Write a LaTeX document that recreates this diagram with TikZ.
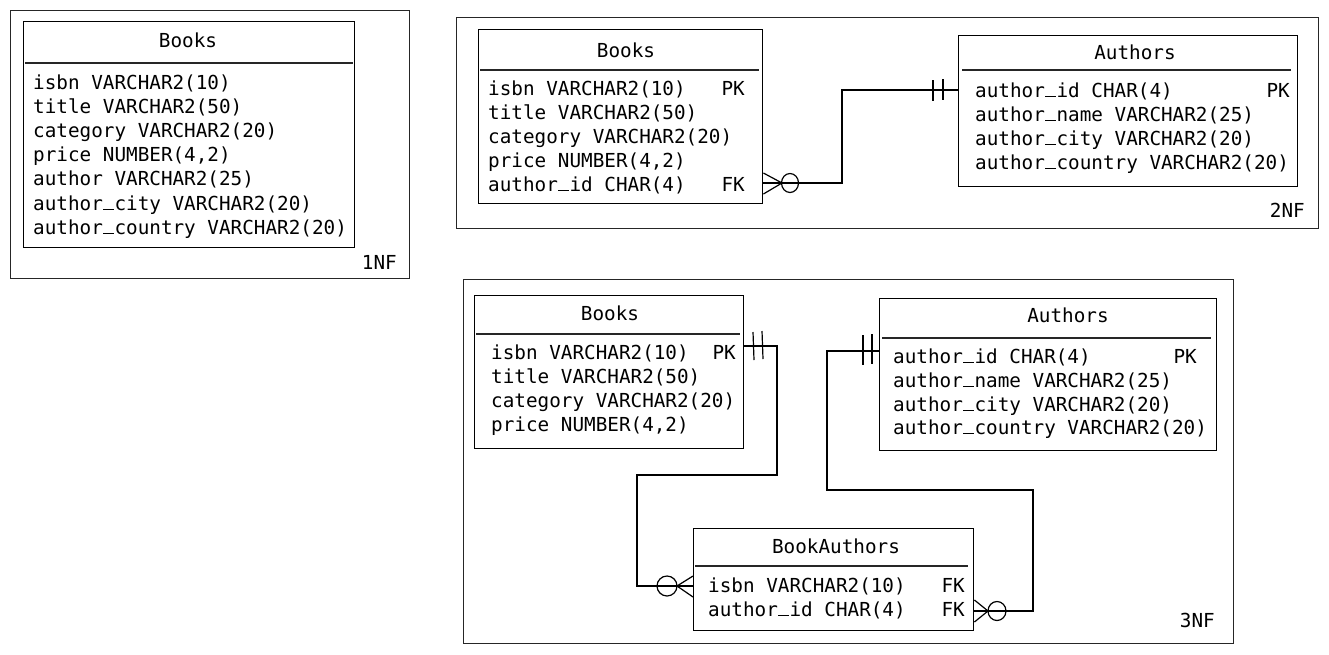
\documentclass[tikz,border=0pt]{standalone}
\usepackage{fontspec}
\setmonofont{DejaVu Sans Mono}
\usetikzlibrary{calc}
% underscore drawn as a visible bar one character wide
\newcommand\usc{\makebox[0.602em][c]{\rule[-0.01em]{0.56em}{0.075em}}}
\begin{document}
\begin{tikzpicture}[x=1pt,y=-1pt,
  frame/.style={draw=black!85, line width=1.2pt, anchor=north west, inner sep=0pt},
  tbl/.style={draw=black, line width=1.4pt, anchor=north west, inner sep=0pt},
  divider/.style={draw=black!85, line width=1.8pt},
  mono/.style={font=\ttfamily\fontsize{19.3}{23}\selectfont, inner sep=0pt, text=black},
  col/.style={mono, anchor=base west},
  key/.style={mono, anchor=base east},
  title/.style={mono, anchor=base},
  rel/.style={draw=black, line width=1.2pt},
]
\useasboundingbox (0,0) rectangle (1329,654);

% ---------- 1NF ----------
\node[frame, minimum width=399pt, minimum height=268pt] (f1) at (10,10) {};
\node[tbl, minimum width=331pt, minimum height=226pt] (t1) at (23,21) {};
\node[title] (t1h) at (188,47) {Books};
\draw[divider] ($(t1.north west)+(2,42)$) -- ($(t1.north east)+(-2,42)$);
\node[col] (t1r1) at ($(t1.north west)+(10,68)$) {isbn VARCHAR2(10)};
\node[col] (t1r2) at ($(t1.north west)+(10,92.2)$) {title VARCHAR2(50)};
\node[col] (t1r3) at ($(t1.north west)+(10,116.4)$) {category VARCHAR2(20)};
\node[col] (t1r4) at ($(t1.north west)+(10,140.6)$) {price NUMBER(4,2)};
\node[col] (t1r5) at ($(t1.north west)+(10,164.8)$) {author VARCHAR2(25)};
\node[col] (t1r6) at ($(t1.north west)+(10,189)$) {author\usc city VARCHAR2(20)};
\node[col] (t1r7) at ($(t1.north west)+(10,213.2)$) {author\usc country VARCHAR2(20)};
\node[key] (l1) at (397,269) {1NF};

% ---------- 2NF ----------
\node[frame, minimum width=862pt, minimum height=211pt] (f2) at (456,17) {};
\node[tbl, minimum width=284pt, minimum height=174pt] (t2) at (478,29) {};
\node[title] (t2h) at (626,57) {Books};
\draw[divider] ($(t2.north west)+(2,41)$) -- ($(t2.north east)+(-4,41)$);
\node[col] (t2r1) at ($(t2.north west)+(10,66)$) {isbn VARCHAR2(10)};
\node[col] (t2r2) at ($(t2.north west)+(10,90)$) {title VARCHAR2(50)};
\node[col] (t2r3) at ($(t2.north west)+(10,114)$) {category VARCHAR2(20)};
\node[col] (t2r4) at ($(t2.north west)+(10,138)$) {price NUMBER(4,2)};
\node[col] (t2r5) at ($(t2.north west)+(10,162)$) {author\usc id CHAR(4)};
\node[key] (t2k1) at (745,95) {PK};
\node[key] (t2k5) at (745,191) {FK};

\node[tbl, minimum width=339pt, minimum height=151pt] (t2a) at (958,35) {};
\node[title] (t2ah) at (1135,59) {Authors};
\draw[divider] ($(t2a.north west)+(4,35)$) -- ($(t2a.north east)+(-7,35)$);
\node[col] (t2ar1) at ($(t2a.north west)+(17,62)$) {author\usc id CHAR(4)};
\node[col] (t2ar2) at ($(t2a.north west)+(17,86)$) {author\usc name VARCHAR2(25)};
\node[col] (t2ar3) at ($(t2a.north west)+(17,110)$) {author\usc city VARCHAR2(20)};
\node[col] (t2ar4) at ($(t2a.north west)+(17,134)$) {author\usc country VARCHAR2(20)};
\node[key] (t2ak1) at (1290,97) {PK};
\node[key] (l2) at (1305,217) {2NF};

% Books (many, optional) -- Authors (exactly one)
\draw[rel] (t2.east |- 0,183) -| (842,90) -- (t2a.west |- 0,90);
\draw[rel] (t2.east |- 0,173) -- (782,183) -- (t2.east |- 0,194);
\draw[rel, fill=white] (790,183) circle[x radius=8.5pt, y radius=9.5pt];
\draw[rel] (782,183) -- (799,183);
\draw[rel] (933,80) -- (933,101) (943,79) -- (943,100);

% ---------- 3NF ----------
\node[frame, minimum width=770pt, minimum height=364pt] (f3) at (463,279) {};
\node[tbl, minimum width=269pt, minimum height=153pt] (t3) at (474,295) {};
\node[title] (t3h) at (610,320) {Books};
\draw[divider] ($(t3.north west)+(2,39)$) -- ($(t3.north east)+(-4,39)$);
\node[col] (t3r1) at ($(t3.north west)+(17,64)$) {isbn VARCHAR2(10)};
\node[col] (t3r2) at ($(t3.north west)+(17,88)$) {title VARCHAR2(50)};
\node[col] (t3r3) at ($(t3.north west)+(17,112)$) {category VARCHAR2(20)};
\node[col] (t3r4) at ($(t3.north west)+(17,136)$) {price NUMBER(4,2)};
\node[key] (t3k1) at (736,359) {PK};

\node[tbl, minimum width=337pt, minimum height=152pt] (t3a) at (879,298) {};
\node[title] (t3ah) at (1068,322) {Authors};
\draw[divider] ($(t3a.north west)+(3,40)$) -- ($(t3a.north east)+(-6,40)$);
\node[col] (t3ar1) at ($(t3a.north west)+(14,65)$) {author\usc id CHAR(4)};
\node[col] (t3ar2) at ($(t3a.north west)+(14,89)$) {author\usc name VARCHAR2(25)};
\node[col] (t3ar3) at ($(t3a.north west)+(14,113)$) {author\usc city VARCHAR2(20)};
\node[col] (t3ar4) at ($(t3a.north west)+(14,136)$) {author\usc country VARCHAR2(20)};
\node[key] (t3ak1) at (1197,363) {PK};

\node[tbl, minimum width=280pt, minimum height=102pt] (t3b) at (693,528) {};
\node[title] (t3bh) at (836,553) {BookAuthors};
\draw[divider] ($(t3b.north west)+(2,38)$) -- ($(t3b.north east)+(-6,38)$);
\node[col] (t3br1) at ($(t3b.north west)+(15,64)$) {isbn VARCHAR2(10)};
\node[col] (t3br2) at ($(t3b.north west)+(15,88)$) {author\usc id CHAR(4)};
\node[key] (t3bk1) at (965,592) {FK};
\node[key] (t3bk2) at (965,616) {FK};
\node[key] (l3) at (1215,627) {3NF};

% Books (exactly one) -- BookAuthors (many, optional)
\draw[rel] (t3.east |- 0,346) -| (777,475) -| (637,586) -- (t3b.west |- 0,586);
\draw[rel] (753,332) -- (754,360) (762,331) -- (763,359);
\draw[rel] (t3b.west |- 0,576) -- (677,586) -- (t3b.west |- 0,597);
\draw[rel, fill=white] (667,586) circle[x radius=10pt, y radius=10pt];
\draw[rel] (657,586) -- (677,586);

% Authors (exactly one) -- BookAuthors (many, optional)
\draw[rel] (t3a.west |- 0,351) -| (827,490) -| (1033,611) -- (t3b.east |- 0,611);
\draw[rel] (863,335) -- (863,365) (872,334) -- (872,364);
\draw[rel] (t3b.east |- 0,600) -- (988,611) -- (t3b.east |- 0,622);
\draw[rel, fill=white] (997,611) circle[x radius=9pt, y radius=9.5pt];
\draw[rel] (988,611) -- (1006,611);
\end{tikzpicture}
\end{document}
